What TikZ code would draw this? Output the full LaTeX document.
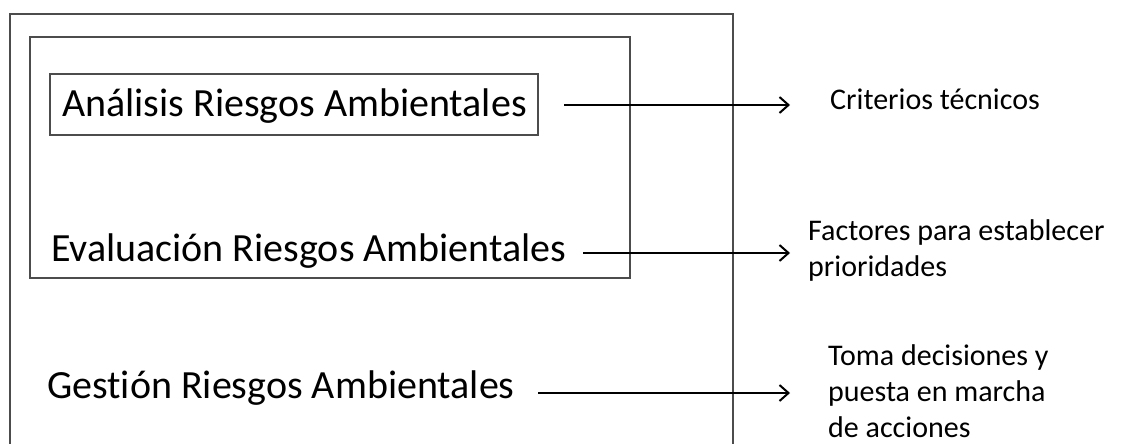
\documentclass[tikz,border=0pt]{standalone}
\usepackage{fontspec}
\setmainfont{Carlito}[Ligatures={NoCommon,NoContextual}]
\usetikzlibrary{arrows.meta}
\begin{document}
\begin{tikzpicture}[x=1pt,y=-1pt,
  frame/.style={draw=black!70,line width=1.3pt},
  big/.style={font=\fontsize{40}{48}\selectfont,inner sep=0pt,anchor=base west},
  small/.style={font=\fontsize{30}{36}\selectfont,inner sep=0pt,anchor=base west,align=left},
  arr/.style={line width=2.2pt,-{Straight Barb[length=9pt,width=16pt,line width=2pt]}}]
\useasboundingbox (0,0) rectangle (1125,444);
% outer frame (open at bottom, cut by picture edge)
\draw[frame] (10,446) -- (10,14) -- (733,14) -- (733,446);
% inner frame
\draw[frame] (30,37) rectangle (630,278);
% box round first label
\node[frame,minimum width=488pt,minimum height=61pt,inner sep=0pt] (abox) at (294,104.5) {};
\node[big] (a) at (62,117) {Análisis Riesgos Ambientales};
\node[big] (e) at (51,261) {Evaluación Riesgos Ambientales};
\node[big] (g) at (47,398) {Gestión Riesgos Ambientales};
\node[small] (c) at (830,110) {Criterios técnicos};
\node[small,anchor=north west] (f) at (808,219) {Factores para establecer\\prioridades};
\node[small,anchor=north west] (t) at (828,344) {Toma decisiones y\\puesta en marcha\\de acciones};
\coordinate (a1) at (564,105);
\coordinate (a2) at (790,105);
\coordinate (e1) at (583,253);
\coordinate (e2) at (790,253);
\coordinate (g1) at (538,393);
\coordinate (g2) at (790,393);
\draw[arr] (a1) -- (a2);
\draw[arr] (e1) -- (e2);
\draw[arr] (g1) -- (g2);
\end{tikzpicture}
\end{document}
